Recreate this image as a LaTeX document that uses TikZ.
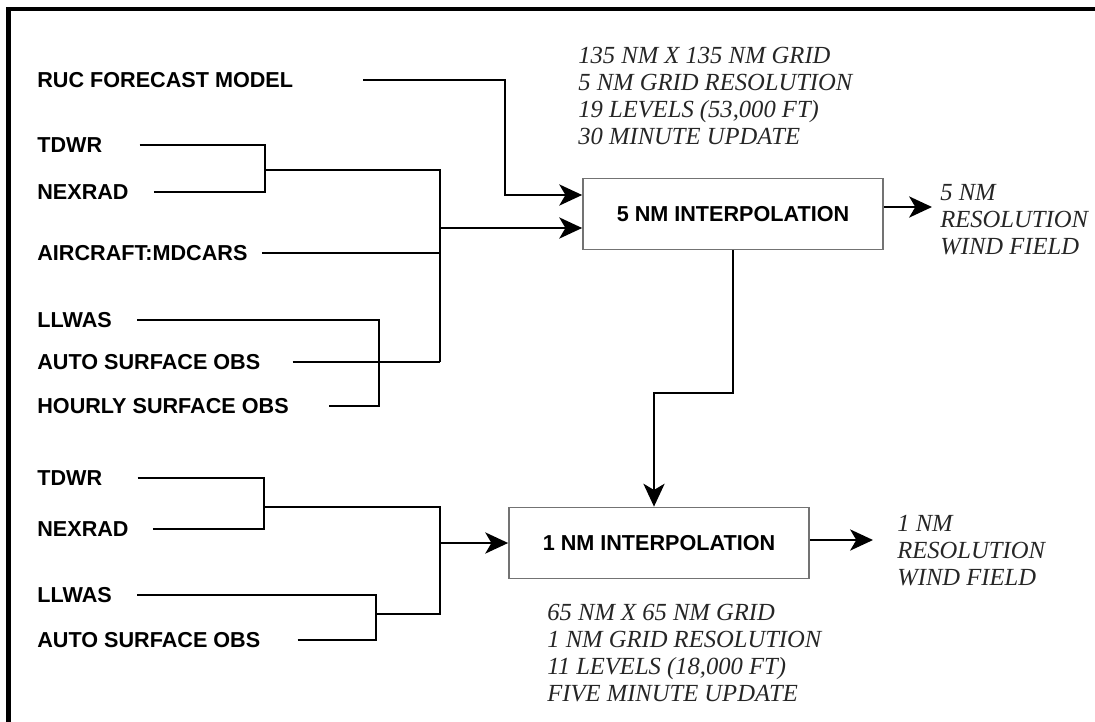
\documentclass[tikz,border=0pt]{standalone}
\usepackage{fontspec}
\setmainfont{Liberation Serif}
\setsansfont{Liberation Sans}
\usetikzlibrary{arrows.meta,positioning}

\tikzset{
  srclabel/.style={anchor=west, inner sep=0pt,
    font=\sffamily\bfseries\fontsize{12.3}{14}\selectfont},
  specnote/.style={anchor=north west, inner sep=0pt, align=left,
    font=\itshape\fontsize{14}{15.4}\selectfont, text=black!85},
  interp/.style={draw=black!55, line width=1pt, minimum width=6cm,
    minimum height=1.42cm, inner sep=0pt,
    font=\sffamily\bfseries\fontsize{12.3}{14}\selectfont},
  wire/.style={line width=1.6pt},
  feed/.style={wire, -{Stealth[length=13pt,width=12pt,inset=3.5pt]}},
}

\begin{document}
\begin{tikzpicture}[x=0.02cm, y=-0.02cm]
      \clip (0,0) rectangle (1095,721);
      \fill[white] (0,0) rectangle (1095,721);

      % Frame round the figure (cut off at the bottom and right)
      \draw[line width=2.3pt] (8.5,740) -- (8.5,9) -- (1110,9);

      % Data sources, upper group
      \node[srclabel] (ruc) at (37,80) {RUC FORECAST MODEL};
      \node[srclabel] (tdwrA) at (37,145) {TDWR};
      \node[srclabel] (nexradA) at (37,192) {NEXRAD};
      \node[srclabel] (aircraft) at (37,253) {AIRCRAFT:MDCARS};
      \node[srclabel] (llwasA) at (37,320) {LLWAS};
      \node[srclabel] (autoA) at (37,362) {AUTO SURFACE OBS};
      \node[srclabel] (hourly) at (37,406) {HOURLY SURFACE OBS};

      % Data sources, lower group
      \node[srclabel] (tdwrB) at (37,478) {TDWR};
      \node[srclabel] (nexradB) at (37,529) {NEXRAD};
      \node[srclabel] (llwasB) at (37,595) {LLWAS};
      \node[srclabel] (autoB) at (37,640) {AUTO SURFACE OBS};

      % Interpolation boxes
      \node[interp] (box5) at (733,214) {5 NM INTERPOLATION};
      \node[interp] (box1) at (659,543) {1 NM INTERPOLATION};

      % Notes
      \node[specnote] (spec5) at (578,47) {135 NM X 135 NM GRID\\5 NM GRID RESOLUTION\\19 LEVELS (53,000 FT)\\30 MINUTE UPDATE};
      \node[specnote] (spec1) at (547,604) {65 NM X 65 NM GRID\\1 NM GRID RESOLUTION\\11 LEVELS (18,000 FT)\\FIVE MINUTE UPDATE};
      \node[specnote] (wind5) at (940,184) {5 NM\\RESOLUTION\\WIND FIELD};
      \node[specnote] (wind1) at (897,515) {1 NM\\RESOLUTION\\WIND FIELD};

      % Junction points
      \coordinate (rucdrop) at (505,195);
      \coordinate (radA) at (265,170);
      \coordinate (busAtop) at (440,170);
      \coordinate (busAbot) at (440,362);
      \coordinate (busAout) at (440,228);
      \coordinate (sfcA) at (379,362);
      \coordinate (radB) at (264,507);
      \coordinate (busBtop) at (440,507);
      \coordinate (busBbot) at (440,614);
      \coordinate (busBout) at (440,543);
      \coordinate (sfcB) at (376,614);
      \coordinate (kink) at (654,393);
      \coordinate (out5) at (932,207);
      \coordinate (out1) at (873,540);

      % Upper group into the 5 NM box
      \draw[feed] ([xshift=1.4cm]ruc.east) -| (rucdrop) -- (rucdrop -| box5.west);
      \draw[wire] ([xshift=0.74cm]tdwrA.east) -| (radA);
      \draw[wire] ([xshift=0.5cm]nexradA.east) -| (radA);
      \draw[wire] (radA) -- (busAtop) -- (busAbot);
      \draw[wire] ([xshift=0.28cm]aircraft.east) -- (aircraft.east -| busAtop);
      \draw[wire] ([xshift=0.64cm]autoA.east) -- (autoA.east -| busAbot);
      \draw[wire] ([xshift=0.5cm]llwasA.east) -| (sfcA) |- ([xshift=0.8cm]hourly.east);
      \draw[feed] (busAout) -- (busAout -| box5.west);

      % Lower group into the 1 NM box
      \draw[wire] ([xshift=0.7cm]tdwrB.east) -| (radB);
      \draw[wire] ([xshift=0.48cm]nexradB.east) -| (radB);
      \draw[wire] ([xshift=0.5cm]llwasB.east) -| (sfcB);
      \draw[wire] ([xshift=0.74cm]autoB.east) -| (sfcB);
      \draw[wire] (radB) -- (busBtop) -- (busBbot) -- (sfcB);
      \draw[feed] (busBout) -- (busBout -| box1.west);

      % Outputs
      \draw[feed] (box5.south) |- (kink) -- (kink |- box1.north);
      \draw[feed] (box5.east |- out5) -- (out5);
      \draw[feed] (box1.east |- out1) -- (out1);
\end{tikzpicture}
\end{document}
